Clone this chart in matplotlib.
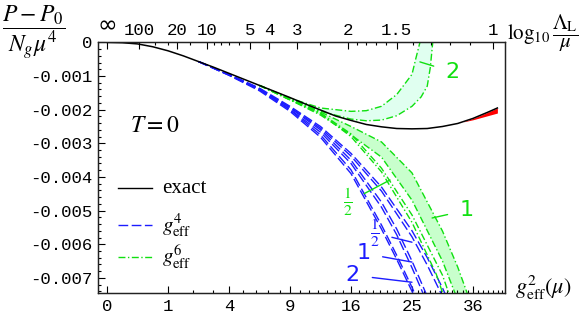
import matplotlib
matplotlib.use('Agg')
import matplotlib.pyplot as plt
import numpy as np

plt.rcParams['mathtext.fontset'] = 'stix'

# bottom axis is g_eff, labelled with g_eff^2
g_ticks = [0, 1, 2, 3, 4, 5, 6]
g_tick_labels = ['0', '1', '4', '9', '16', '25', '36']
g2_minor = [2, 3, 5, 6, 7, 8, 10, 11, 12, 13, 14, 15, 17, 18, 19, 20, 21, 22, 23, 24,
            26, 27, 28, 29, 30, 31, 32, 33, 34, 35, 37, 38, 39, 40, 41, 42]

lam_labels = ['\u221e', '100', '20', '10', '5', '4', '3', '2', '1.5', '1']
lam_vals = [np.inf, 100, 20, 10, 5, 4, 3, 2, 1.5, 1]
lam_pos = [0.0, 0.525, 1.15, 1.64, 2.34, 2.66, 3.11, 3.95, 4.75, 6.33]
lam_minor = [50, 30, 15, 9, 8, 7, 6, 2.5, 1.9, 1.8, 1.7, 1.6, 1.4, 1.3, 1.2, 1.1]

y_ticks = [0, -1, -2, -3, -4, -5, -6, -7]
y_tick_labels = ['0', '-0.001', '-0.002', '-0.003', '-0.004', '-0.005', '-0.006', '-0.007']

# exact result (units of 1e-3)
g_exact = [0, 0.25, 0.5, 0.75, 1.0, 1.25, 1.5, 1.75, 2.0, 2.25, 2.5, 2.75, 3.0, 3.25,
           3.5, 3.75, 4.0, 4.25, 4.5, 4.75, 5.0, 5.25, 5.5, 5.75, 6.0, 6.25, 6.4]
p_exact = [0, -0.01, -0.045, -0.13, -0.25, -0.40, -0.57, -0.74, -0.92, -1.10, -1.28, -1.46,
           -1.64, -1.83, -2.01, -2.19, -2.32, -2.44, -2.51, -2.56, -2.57, -2.56, -2.50,
           -2.41, -2.26, -2.07, -1.95]
g_red = [5.85, 6.0, 6.2, 6.4]
p_red_hi = [-2.35, -2.26, -2.11, -1.95]
p_red_lo = [-2.36, -2.30, -2.20, -2.10]

# g_eff^4 truncation, pairs for scale factor 1/2, 1, 2
g_b2 = [1.5, 2, 2.5, 3, 3.5, 4, 4.5, 4.75, 5.0, 5.1]
p_b2a = [-0.57, -0.97, -1.41, -2.01, -2.75, -3.79, -5.43, -6.33, -7.28, -7.7]
p_b2b = [-0.57, -0.98, -1.44, -2.05, -2.82, -3.90, -5.55, -6.45, -7.40, -7.8]
g_b1 = [1.5, 2, 2.5, 3, 3.5, 4, 4.5, 4.75, 5.0, 5.25, 5.35]
p_b1a = [-0.57, -0.96, -1.38, -1.95, -2.60, -3.50, -4.75, -5.55, -6.50, -7.55, -8.0]
p_b1b = [-0.57, -0.97, -1.40, -1.99, -2.67, -3.60, -4.90, -5.72, -6.70, -7.75, -8.2]
g_bh = [1.5, 2, 2.5, 3, 3.5, 4, 4.5, 5.0, 5.25, 5.5, 5.6]
p_bha = [-0.57, -0.95, -1.36, -1.90, -2.50, -3.30, -4.30, -5.60, -6.40, -7.30, -7.7]
p_bhb = [-0.57, -0.96, -1.38, -1.93, -2.55, -3.38, -4.42, -5.78, -6.62, -7.55, -8.0]

# g_eff^6 truncation
g_g2i = [2.5, 3.0, 3.5, 4.0, 4.25, 4.5, 4.75, 5.0, 5.06, 5.13, 5.2]
p_g2i = [-1.28, -1.66, -1.95, -2.05, -2.03, -1.90, -1.55, -0.95, -0.5, 0.0, 0.5]
g_g2o = [2.5, 3.0, 3.5, 4.0, 4.25, 4.5, 4.75, 5.0, 5.15, 5.25, 5.30, 5.34, 5.37]
p_g2o = [-1.28, -1.67, -2.05, -2.28, -2.33, -2.31, -2.18, -1.90, -1.62, -1.30, -0.75, 0.0, 0.4]
g_g1r = [2.5, 3.0, 3.5, 4.0, 4.5, 5.0, 5.5, 5.75, 5.9, 6.0]
p_g1r = [-1.28, -1.68, -2.07, -2.50, -2.96, -3.88, -5.61, -6.68, -7.43, -7.9]
g_g1l = [2.5, 3.0, 3.5, 4.0, 4.5, 5.0, 5.5, 5.7, 5.8]
p_g1l = [-1.28, -1.71, -2.16, -2.75, -3.41, -4.69, -6.50, -7.43, -7.9]
g_gha = [2.5, 3.0, 3.5, 4.0, 4.5, 5.0, 5.5, 5.65]
p_gha = [-1.28, -1.71, -2.10, -2.72, -3.74, -5.13, -6.92, -7.7]
g_ghb = [2.5, 3.0, 3.5, 4.0, 4.5, 5.0, 5.4, 5.55]
p_ghb = [-1.28, -1.70, -2.12, -2.80, -3.85, -5.35, -6.9, -7.7]

blue = '#1c1cff'
green = '#10e010'
sc = 1e-3
tick_font = 'Liberation Mono'

fig = plt.figure(figsize=(5.81, 3.26), dpi=100)
ax = fig.add_axes([0.1687, 0.1012, 0.7005, 0.7698])

# bands
ax.fill(np.r_[g_g1l, g_g1r[::-1]], np.r_[p_g1l, p_g1r[::-1]] * np.array(sc),
        color='#c8ffcc', lw=0)
ax.fill(np.r_[g_g2i, g_g2o[::-1]], np.r_[p_g2i, p_g2o[::-1]] * np.array(sc),
        color='#e0fff0', lw=0)
ax.fill_between(g_red, np.array(p_red_lo) * sc, np.array(p_red_hi) * sc, color='red', lw=0)

bd = (7, 2.5)
gd = (5, 1.8, 1, 1.8)
for gg, pp in [(g_b2, p_b2a), (g_b2, p_b2b), (g_b1, p_b1a), (g_b1, p_b1b),
               (g_bh, p_bha), (g_bh, p_bhb)]:
    ax.plot(gg, np.array(pp) * sc, color=blue, lw=1, dashes=bd)
for gg, pp in [(g_g2i, p_g2i), (g_g2o, p_g2o), (g_g1r, p_g1r), (g_g1l, p_g1l),
               (g_gha, p_gha), (g_ghb, p_ghb)]:
    ax.plot(gg, np.array(pp) * sc, color=green, lw=1, dashes=gd)
ax.plot(g_exact, np.array(p_exact) * sc, color='black', lw=1.1)

ax.set_xlim(-0.148, 6.525)
ax.set_ylim(-7.45e-3, 0.01e-3)

ax.set_xticks(g_ticks)
ax.set_xticklabels(g_tick_labels)
ax.set_xticks(np.sqrt(g2_minor), minor=True)
ax.set_yticks(np.array(y_ticks) * sc)
ax.set_yticklabels(y_tick_labels)
ax.set_yticks(np.arange(-7.4, 0.01, 0.2) * sc, minor=True)
ax.tick_params(which='both', direction='in', top=False, right=False, width=0.8,
               labelsize=12.5, pad=4)
ax.tick_params(which='major', length=5)
ax.tick_params(which='minor', length=2.5)
for t in ax.get_xticklabels() + ax.get_yticklabels():
    t.set_family(tick_font)

ax2 = ax.twiny()
ax2.set_xlim(ax.get_xlim())
ax2.set_xticks(lam_pos)
ax2.set_xticklabels(lam_labels)
fin_v = np.log(lam_vals[1:])
minor_pos = np.interp(-np.log(lam_minor), -fin_v, lam_pos[1:])
ax2.set_xticks(minor_pos, minor=True)
ax2.tick_params(which='both', direction='in', width=0.8, labelsize=12.5, pad=3)
ax2.tick_params(which='major', length=5)
ax2.tick_params(which='minor', length=2.5)
for t in ax2.get_xticklabels():
    t.set_family(tick_font)
ax2.get_xticklabels()[0].set_fontsize(17)
ax2.get_xticklabels()[0].set_family('DejaVu Sans')

for a in (ax, ax2):
    for s in a.spines.values():
        s.set_linewidth(0.9)
        s.set_color('#222222')

# labels on the curves
def lab(txt, xy, xyt, col, fs=16):
    ax.annotate(txt, xy=(xy[0], xy[1] * sc), xytext=(xyt[0], xyt[1] * sc),
                color=col, fontsize=fs, ha='center', va='center',
                arrowprops=dict(arrowstyle='-', color=col, lw=1, shrinkA=7, shrinkB=0))

lab('2', (5.0, -7.13), (4.03, -6.92), blue)
lab('1', (5.0, -6.53), (4.20, -6.27), blue)
lab(r'$\frac{1}{2}$', (5.0, -5.94), (4.39, -5.67), blue, 16)
lab(r'$\frac{1}{2}$', (4.64, -4.09), (3.95, -4.75), green, 16)
lab('1', (5.33, -5.22), (5.90, -4.99), green)
lab('2', (5.13, -0.58), (5.67, -0.88), green)

ax.text(0.14, 0.67, r'$T=0$', transform=ax.transAxes, fontsize=17, ha='center', va='center')

# legend drawn by hand
leg_y = [0.418, 0.271, 0.143]
leg_lab = ['exact', r'$g_{\rm eff}^4$', r'$g_{\rm eff}^6$']
leg_col = ['black', blue, green]
leg_dash = [None, bd, gd]
for yy, tx, cc, dd in zip(leg_y, leg_lab, leg_col, leg_dash):
    ln, = ax.plot([0.049, 0.133], [yy, yy], transform=ax.transAxes, color=cc, lw=1)
    if dd:
        ln.set_dashes(dd)
    ax.text(0.157, yy, tx, transform=ax.transAxes, fontsize=15, va='center',
            family='Liberation Serif')

fig.text(0.058, 0.99, r'$\dfrac{P-P_0}{N_g\mu^4}$', fontsize=17, ha='center', va='top')
fig.text(0.935, 0.96, r'$\log_{10}\dfrac{\Lambda_{\rm L}}{\mu}$', fontsize=15,
         ha='center', va='top')
fig.text(0.935, 0.118, r'$g_{\rm eff}^2(\mu)$', fontsize=16, ha='center', va='center')

fig.savefig('out.png', dpi=100)
